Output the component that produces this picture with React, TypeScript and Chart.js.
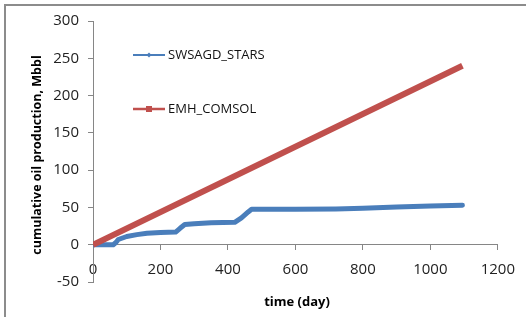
import React, { useEffect, useRef } from "react";
import { Chart, registerables } from "chart.js";

Chart.register(...registerables);

const seriesNames = ["SWSAGD_STARS", "EMH_COMSOL"];
const blueDays = [0, 30, 60, 68, 75, 100, 130, 160, 200, 245, 258, 272, 300, 350, 420, 440, 460, 470, 500, 600, 720, 800, 900, 1000, 1095];
const blueValues = [0, 0, 0, 3, 7, 11, 13.5, 15.5, 16.5, 17, 22, 27, 28, 29.5, 30, 36, 44, 47.5, 47.5, 47.5, 48, 49, 50.5, 52, 53];
const redDays = [0, 1095];
const redValues = [0, 240];
const xTicks = [0, 200, 400, 600, 800, 1000, 1200];
const yTicks = [-50, 0, 50, 100, 150, 200, 250, 300];
const xTitle = "time (day)";
const yTitle = "cumulative oil production, Mbbl";

const BLUE = "#4a7ebb";
const RED = "#c0504d";
const FONT = "'Open Sans', sans-serif";

export default function App() {
  const ref = useRef<HTMLCanvasElement | null>(null);
  useEffect(() => {
    if (!ref.current) return;
    const decor = {
      id: "decor",
      afterDraw(chart: any) {
        const ctx = chart.ctx;
        ctx.save();
        // frame
        ctx.strokeStyle = "#8c8c8c";
        ctx.lineWidth = 2;
        ctx.beginPath();
        ctx.moveTo(526, 5);
        ctx.lineTo(5, 5);
        ctx.lineTo(5, 317);
        ctx.stroke();
        // titles
        ctx.fillStyle = "#000";
        ctx.textAlign = "center";
        ctx.textBaseline = "middle";
        ctx.font = `bold 13px ${FONT}`;
        ctx.fillText(xTitle, 297, 302);
        ctx.translate(37, 155);
        ctx.rotate(-Math.PI / 2);
        ctx.font = `bold 12.5px ${FONT}`;
        ctx.fillText(yTitle, 0, 0);
        ctx.restore();
        // legend
        ctx.save();
        const legendY = [55, 109];
        chart.data.datasets.forEach((ds: any, i: number) => {
          const y = legendY[i];
          ctx.strokeStyle = ds.borderColor;
          ctx.lineWidth = i === 0 ? 2 : 2.5;
          ctx.beginPath();
          ctx.moveTo(133, y);
          ctx.lineTo(165, y);
          ctx.stroke();
          ctx.fillStyle = ds.borderColor;
          if (i === 1) {
            ctx.fillRect(146, y - 3, 6, 6);
          } else {
            ctx.beginPath();
            ctx.moveTo(149, y - 2.5);
            ctx.lineTo(151.5, y);
            ctx.lineTo(149, y + 2.5);
            ctx.lineTo(146.5, y);
            ctx.closePath();
            ctx.fill();
          }
          ctx.fillStyle = "#111";
          ctx.font = `13px ${FONT}`;
          ctx.textAlign = "left";
          ctx.textBaseline = "middle";
          ctx.fillText(ds.label, 168, y);
        });
        ctx.restore();
      },
    };
    const chart = new Chart(ref.current, {
      type: "line",
      data: {
        datasets: [
          {
            label: seriesNames[0],
            data: blueDays.map((d, i) => ({ x: d, y: blueValues[i] })),
            borderColor: BLUE,
            backgroundColor: BLUE,
            borderWidth: 5,
            pointRadius: 0,
            tension: 0,
            borderCapStyle: "round",
            borderJoinStyle: "round",
            order: 1,
          },
          {
            label: seriesNames[1],
            data: redDays.map((d, i) => ({ x: d, y: redValues[i] })),
            borderColor: RED,
            backgroundColor: RED,
            borderWidth: 6,
            pointRadius: 0,
            tension: 0,
            order: 0,
          },
        ],
      },
      options: {
        animation: false,
        responsive: false,
        maintainAspectRatio: false,
        layout: { padding: { left: 0, right: 27, top: 21, bottom: 35 } },
        plugins: { legend: { display: false }, tooltip: { enabled: false } },
        scales: {
          x: {
            type: "linear",
            position: { y: 0 } as any,
            min: 0,
            max: 1200,
            afterBuildTicks: (s: any) => {
              s.ticks = xTicks.map((v) => ({ value: v }));
            },
            grid: { display: true, drawOnChartArea: false, tickLength: 5, color: "#868686" },
            border: { display: true, color: "#868686", width: 1 },
            ticks: { color: "#222", font: { family: FONT, size: 15 }, padding: 11, maxRotation: 0, callback: (v: any) => String(v) },
          },
          y: {
            type: "linear",
            min: -50,
            max: 300,
            afterBuildTicks: (s: any) => {
              s.ticks = yTicks.map((v) => ({ value: v }));
            },
            afterFit: (s: any) => {
              s.width = 93;
            },
            grid: { display: true, drawOnChartArea: false, tickLength: 5, color: "#868686" },
            border: { display: true, color: "#868686", width: 1 },
            ticks: { color: "#222", font: { family: FONT, size: 15 }, padding: 9, callback: (v: any) => String(v) },
          },
        },
      },
      plugins: [decor],
    });
    return () => chart.destroy();
  }, []);
  return (
    <div style={{ position: "fixed", left: 0, top: 0, width: 526, height: 317, background: "#fff" }}>
      <canvas ref={ref} width={526} height={317} style={{ display: "block", width: 526, height: 317 }} />
    </div>
  );
}
